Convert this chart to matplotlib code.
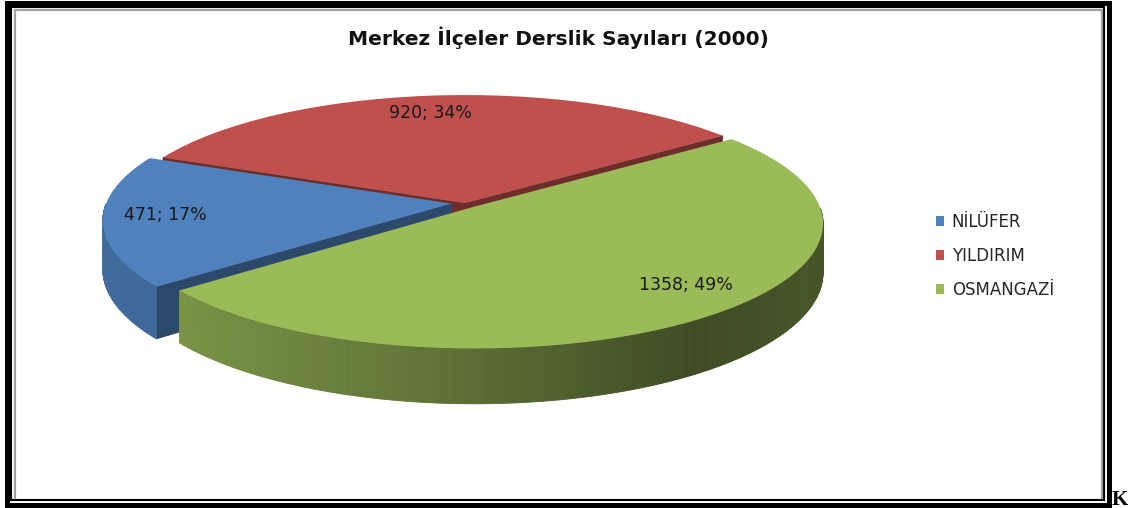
import numpy as np
import matplotlib
matplotlib.use('Agg')
import matplotlib.pyplot as plt
from matplotlib import transforms as mtransforms
from matplotlib import colors as mcolors

# data
districts = ['NİLÜFER', 'YILDIRIM', 'OSMANGAZİ']
classrooms = [471, 920, 1358]
shares = [17, 34, 49]
explode = [0.04, 0.0, 0.04]
top_colors = ['#4f81bd', '#c0504d', '#9bbb59']
title = 'Merkez İlçeler Derslik Sayıları (2000)'

W, H = 1143, 508

# tilted pie view, in pixel units (y up)
VX, VY = 465, 305
SX, SY = 345, 122
PERSP = 0.13
DEPTH = 48


def project(x, y, z=0.0):
    d = 1 + PERSP * y
    return VX + SX * x / d, VY + (SY * y + z) / d


class Tilt(mtransforms.Transform):
    # pie coords -> perspective view of the pie's top face
    input_dims = 2
    output_dims = 2
    is_separable = False
    has_inverse = False

    def transform_non_affine(self, values):
        v = np.asarray(values, dtype=float)
        px, py = project(v[:, 0], v[:, 1])
        return np.column_stack([px, py])


def shade(c, f):
    return tuple(np.clip(np.array(mcolors.to_rgb(c)) * f, 0, 1))


def side_factor(px):
    t = (px - 100.0) / (830.0 - 100.0)
    return np.interp(t, [0, 0.45, 0.82, 1.0], [0.84, 0.62, 0.40, 0.46])


fig = plt.figure(figsize=(W / 100, H / 100), dpi=100)
ax = fig.add_axes([0, 0, 1, 1])

wedges, _ = ax.pie(classrooms, explode=explode, colors=top_colors,
                   startangle=218.6, counterclock=False,
                   wedgeprops=dict(linewidth=0))
ax.set_aspect('auto')
ax.set_xlim(0, W)
ax.set_ylim(0, H)
ax.axis('off')

for w in wedges:
    w.set_transform(Tilt() + ax.transData)
    w.set_zorder(5)

# side walls, back slices first
mid = [np.radians((w.theta1 + w.theta2) / 2) for w in wedges]
order = sorted(range(len(wedges)), key=lambda i: -np.sin(mid[i]))
for i in order:
    w = wedges[i]
    cx0, cy0 = w.center
    # cut faces
    for ang, normal in [(w.theta1, w.theta1 - 90), (w.theta2, w.theta2 + 90)]:
        if np.sin(np.radians(normal)) < 0:
            ex = cx0 + np.cos(np.radians(ang))
            ey = cy0 + np.sin(np.radians(ang))
            px, py = project(np.array([cx0, ex, ex, cx0]),
                             np.array([cy0, ey, ey, cy0]),
                             np.array([0, 0, -DEPTH, -DEPTH]))
            c = shade(top_colors[i], 0.56)
            ax.fill(px, py, facecolor=c, edgecolor=c, lw=0.5, zorder=2)
    # outer rim, in thin strips for the shading
    a = np.radians(np.linspace(w.theta1, w.theta2, 300))
    ux = cx0 + np.cos(a)
    uy = cy0 + np.sin(a)
    tx, ty = project(ux, uy)
    bx, by = project(ux, uy, -DEPTH)
    vis = np.sin(a) < 0
    for k in range(len(a) - 1):
        if not (vis[k] and vis[k + 1]):
            continue
        c = shade(top_colors[i], side_factor(tx[k]))
        ax.fill([tx[k], tx[k + 1], bx[k + 1], bx[k]],
                [ty[k], ty[k + 1], by[k + 1], by[k]],
                facecolor=c, edgecolor=c, lw=0.6, zorder=3)

# data labels
label_pos = [(165, 215), (430, 113), (686, 285)]
for (lx, ly), v, s in zip(label_pos, classrooms, shares):
    ax.text(lx, H - ly, f'{v}; {s}%', ha='center', va='center',
            fontsize=12.5, color='#1a1a1a', zorder=6)

ax.text(558, H - 38, title, ha='center', va='center', fontsize=14.5,
        fontweight='bold', family='DejaVu Sans', color='#111111')

leg = ax.legend(wedges, districts, loc='upper left',
                bbox_to_anchor=(936 / W, (H - 213) / H), frameon=False,
                fontsize=12, handlelength=0.5, handleheight=0.5,
                handletextpad=0.45, labelspacing=0.95, borderpad=0,
                borderaxespad=0)
for t in leg.get_texts():
    t.set_color('#262626')

# frame around the chart
ax.plot([6.5, 6.5, 1108.5, 1108.5, 6.5], [H - 504.5, H - 2.5, H - 2.5, H - 504.5, H - 504.5],
        color='black', lw=3.6, solid_joinstyle='miter', zorder=8)
ax.plot([11, 11, 1104, 1104, 11], [H - 499.5, H - 7, H - 7, H - 499.5, H - 499.5],
        color='black', lw=1.5, solid_joinstyle='miter', zorder=8)
ax.plot([14.5, 14.5, 1102, 1102], [H - 498, H - 9.5, H - 9.5, H - 498],
        color='#a0a0a0', lw=1.6, solid_joinstyle='miter', zorder=8)
ax.text(1112, H - 505, 'K', fontsize=15, fontweight='bold',
        family='Liberation Serif', ha='left', va='baseline')

fig.savefig('out.png', dpi=100)
